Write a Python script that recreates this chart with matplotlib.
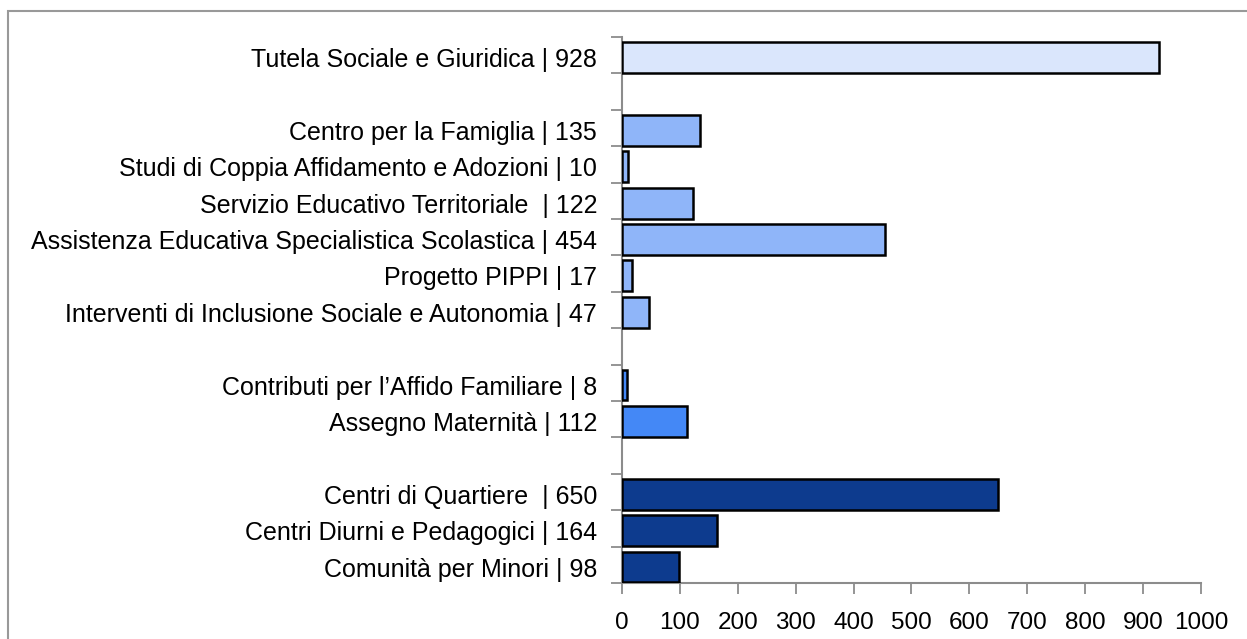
import matplotlib
matplotlib.use("Agg")
import matplotlib.pyplot as plt
from matplotlib.patches import Rectangle

plt.rcParams['font.family'] = ['Liberation Sans', 'DejaVu Sans']

# Data (top to bottom), groups separated by an empty slot
categories = [
    "Tutela Sociale e Giuridica | 928",
    "Centro per la Famiglia | 135",
    "Studi di Coppia Affidamento e Adozioni | 10",
    "Servizio Educativo Territoriale  | 122",
    "Assistenza Educativa Specialistica Scolastica | 454",
    "Progetto PIPPI | 17",
    "Interventi di Inclusione Sociale e Autonomia | 47",
    "Contributi per l\u2019Affido Familiare | 8",
    "Assegno Maternità | 112",
    "Centri di Quartiere  | 650",
    "Centri Diurni e Pedagogici | 164",
    "Comunità per Minori | 98",
]
values = [928, 135, 10, 122, 454, 17, 47, 8, 112, 650, 164, 98]
groups = [0, 1, 1, 1, 1, 1, 1, 2, 2, 3, 3, 3]
group_colors = ["#DAE6FC", "#8FB5F9", "#4488F6", "#0D3B8E"]
x_ticks = [0, 100, 200, 300, 400, 500, 600, 700, 800, 900, 1000]

# slot positions with a gap between groups
positions = []
slot = 0
prev = groups[0]
for g in groups:
    if g != prev:
        slot += 1
        prev = g
    positions.append(slot)
    slot += 1
n_slots = slot

fig = plt.figure(figsize=(12.47, 6.39), dpi=100)
ax = fig.add_axes([0.4988, 0.0876, 0.9631 - 0.4988, 0.942 - 0.0876])

bar_pos = [p + 0.06 for p in positions]
ax.barh(bar_pos, values, height=0.85,
        color=[group_colors[g] for g in groups],
        edgecolor="black", linewidth=1.8, zorder=3)

ax.set_xlim(0, 1000)
ax.set_ylim(n_slots - 0.5, -0.5)
ax.set_xticks(x_ticks)
ax.set_xticklabels([str(t) for t in x_ticks], fontsize=17.5)

ax.set_yticks([i - 0.5 for i in range(n_slots + 1)])
ax.set_yticklabels([])
ax.set_yticks(bar_pos, minor=True)
ax.set_yticklabels(categories, minor=True, fontsize=18)

ax.tick_params(axis='y', which='major', length=8, width=1.3, color="#8C8C8C", direction='out')
ax.tick_params(axis='y', which='minor', length=0, pad=18)
ax.tick_params(axis='x', which='major', length=8, width=1.3, color="#8C8C8C", direction='out', pad=13)

for s in ['top', 'right']:
    ax.spines[s].set_visible(False)
for s in ['left', 'bottom']:
    ax.spines[s].set_color("#8C8C8C")
    ax.spines[s].set_linewidth(1.5)

# outer chart border
fig.patches.append(Rectangle((8 / 1247, -0.05), 1.1, 0.05 + 1 - 11 / 639,
                             transform=fig.transFigure, fill=False,
                             edgecolor="#999999", linewidth=1.5))

fig.savefig("out.png", dpi=100)
